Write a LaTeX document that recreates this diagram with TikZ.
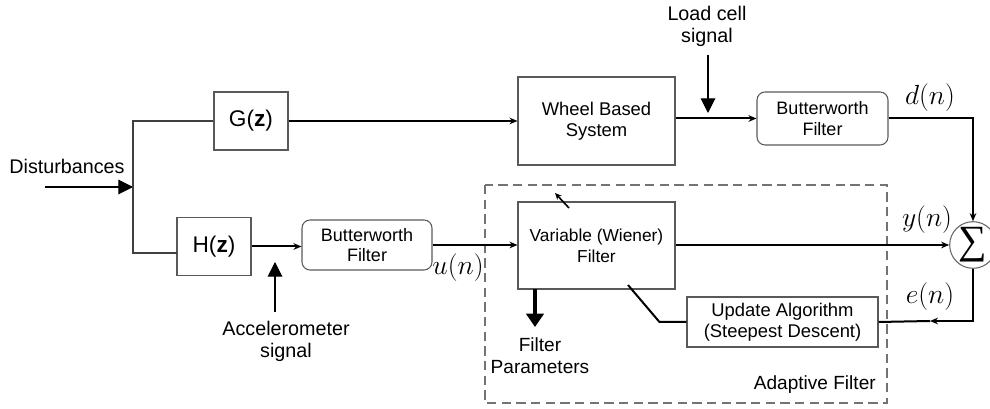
\documentclass[tikz,border=0pt]{standalone}
\usepackage{fontspec}
\setmainfont{Liberation Sans}
\newfontfamily\sigfont{Liberation Serif}
\usetikzlibrary{arrows.meta}
\begin{document}
\begin{tikzpicture}[x=0.75pt,y=-0.75pt,
  every node/.style={font=\fontsize{13.8}{16}\selectfont, inner sep=0pt},
  blk/.style={draw=black!65, line width=0.8pt, align=center},
  rblk/.style={blk, rounded corners=6pt},
  sig/.style={line width=1.5pt, black},
  thin line/.style={line width=0.8pt, black!75},
  sarrow/.style={-{Stealth[length=6pt,width=5pt]}},
  bigtri/.style={-{Triangle[length=11pt,width=11pt]}, line width=0.8pt},
  lbl/.style={font=\fontsize{19.5}{22}\selectfont},
  big/.style={font=\fontsize{14.8}{16.5}\selectfont}]
\useasboundingbox (0,0) rectangle (990,409);
% dashed adaptive filter frame
\draw[black!55, line width=0.9pt, dash pattern=on 7pt off 4pt] (485,185) rectangle (887,403);
\node[anchor=east, font=\fontsize{14.3}{16}\selectfont] (adlbl) at (876,385) {Adaptive Filter};
% blocks
\node[blk, minimum width=55.5pt, minimum height=43.5pt, font=\fontsize{17}{20}\selectfont] (G) at (251,121) {G(\textbf{z})};
\node[blk, minimum width=55.5pt, minimum height=44pt, font=\fontsize{17}{20}\selectfont] (H) at (214,246.5) {H(\textbf{z})};
\node[blk, minimum width=117.75pt, minimum height=66pt] (W) at (596.5,121) {Wheel Based\\System};
\node[blk, minimum width=117.75pt, minimum height=65.25pt, font=\fontsize{13}{16}\selectfont] (V) at (596.5,245.5) {Variable (Wiener)\\Filter};
\node[rblk, minimum width=98.25pt, minimum height=39.75pt, font=\fontsize{13.5}{15.5}\selectfont] (BU) at (822.5,118.5) {Butterworth\\Filter};
\node[rblk, minimum width=97.5pt, minimum height=37.5pt, font=\fontsize{13.5}{15.5}\selectfont] (BL) at (367,245) {Butterworth\\Filter};
\node[blk, minimum width=143.25pt, minimum height=37.5pt, font=\fontsize{13.8}{15.5}\selectfont] (U) at (782.5,322) {Update Algorithm\\(Steepest Descent)};
\node[draw=black!60, line width=0.8pt, circle, minimum size=35pt, fill=white, font=\sigfont\fontsize{30}{30}\selectfont] (S) at (973,245) {∑};
% texts
\node[big] (dist) at (67,166) {Disturbances};
\node[big, align=center] (load) at (707,26) {Load cell\\signal};
\node[big, align=center] (acc) at (286,341) {Accelerometer\\signal};
\node[align=center, font=\fontsize{14.3}{16.5}\selectfont] (fpt) at (540,356) {Filter\\Parameters};
\node[lbl] (dn) at (930,98) {$d(n)$};
\node[lbl] (yn) at (927,220) {$y(n)$};
\node[lbl] (en) at (930,297) {$e(n)$};
\node[lbl] (un) at (458,268) {$u(n)$};
% coordinates
\coordinate (sp) at (133,187);
\coordinate (dstart) at (45,187);
\coordinate (hin) at (177,253);
\coordinate (lcs) at (708,55);
\coordinate (lce) at (708,113);
\coordinate (acs) at (275,312);
\coordinate (ace) at (275,262);
\coordinate (emid) at (930,321);
\coordinate (dg) at (628,285);
\coordinate (ta1) at (569,208);
\coordinate (ta2) at (555,193);
\coordinate (fps) at (535,289);
\coordinate (fpe) at (535,327);
% connectors
\draw[bigtri] (dstart) -- (sp);
\draw[thin line] (G.west) -| (sp) |- (hin);
\draw[sig, sarrow] (G.east) -- (G.east -| W.west);
\draw[sig, sarrow] (W.east |- BU.west) -- (BU.west);
\draw[bigtri] (lcs) -- (lce);
\draw[sig, sarrow] (BU.east) -| (S.north);
\draw[sig, sarrow] (H.east) -- (H.east -| BL.west);
\draw[bigtri] (acs) -- (ace);
\draw[sig, sarrow] (BL.east) -- (BL.east -| V.west);
\draw[sig, sarrow] (V.east |- S.west) -- (S.west);
\draw[sig, sarrow] (S.south) |- (emid);
\draw[sig] (emid) -- (U.east);
\draw[sig] (U.west) -- ++(-27,0) -- (dg);
\draw[line width=1.2pt, -{Stealth[length=5pt,width=4.5pt]}] (ta1) -- (ta2);
\draw[line width=3.5pt, -{Triangle[length=10pt,width=13pt]}] (fps) -- (fpe);
\end{tikzpicture}
\end{document}
